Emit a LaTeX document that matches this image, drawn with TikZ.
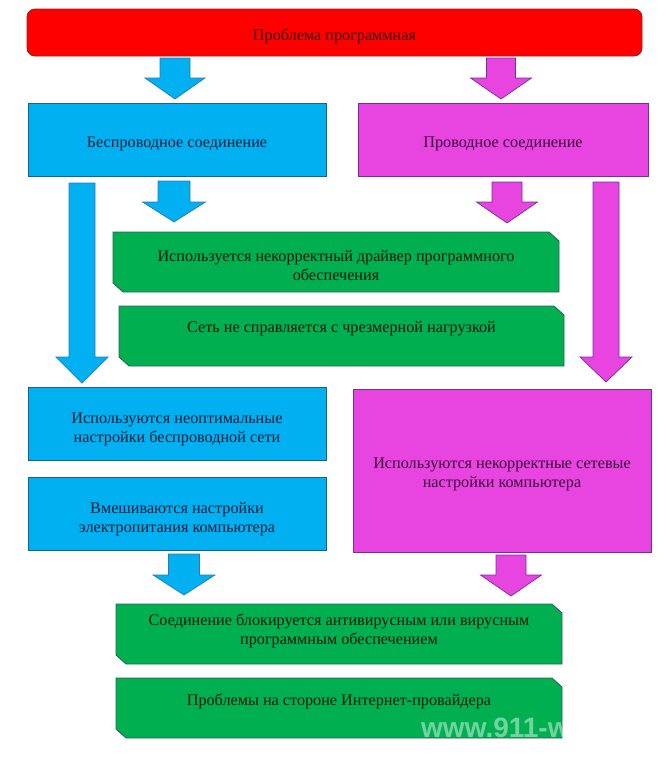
\documentclass[tikz,border=0pt]{standalone}
\usepackage{fontspec}
\setmainfont{Liberation Serif}
\newfontfamily\wmfont{Liberation Sans}
\definecolor{redfill}{HTML}{FF0000}
\definecolor{redline}{HTML}{8B2020}
\definecolor{bluefill}{HTML}{00B0F0}
\definecolor{blueline}{HTML}{1F5F8B}
\definecolor{bluearr}{HTML}{2A7AB8}
\definecolor{magfill}{HTML}{E844E0}
\definecolor{magline}{HTML}{7030A0}
\definecolor{grnfill}{HTML}{00B050}
\definecolor{grnline}{HTML}{2A6050}
\definecolor{redtxt}{HTML}{400000}
\definecolor{bluetxt}{HTML}{0B1F3A}
\definecolor{magtxt}{HTML}{3A0A3A}
\definecolor{grntxt}{HTML}{0A1A0A}
\newcommand\blockarr[7]{%
  \draw[#1] ({#2-#6},#3) -- ({#2+#6},#3) -- ({#2+#6},#4) -- ({#2+#7},#4)
    -- (#2,#5) -- ({#2-#7},#4) -- ({#2-#6},#4) -- cycle;}
\newcommand\snipbox[5]{% style x1 y1 x2 y2
  \draw[#1] (#2,#3) -- ({#4-10},#3) -- (#4,{#3+9}) -- (#4,#5) -- ({#2+10},#5)
    -- (#2,{#5-9}) -- cycle;}
\tikzset{
  redbox/.style={fill=redfill,draw=redline,line width=0.8pt,rounded corners=8pt},
  bluebox/.style={fill=bluefill,draw=blueline,line width=0.8pt},
  magbox/.style={fill=magfill,draw=magline,line width=0.8pt},
  grnbox/.style={fill=grnfill,draw=grnline,line width=0.8pt},
  bluearrow/.style={fill=bluefill,draw=bluearr,line width=0.7pt},
  magarrow/.style={fill=magfill,draw=magline,line width=0.7pt},
  txt/.style={inner sep=0pt,align=center,font=\fontsize{16.2}{19}\selectfont},
}
\begin{document}
\begin{tikzpicture}[x=1pt,y=-1pt]
\useasboundingbox (0,0) rectangle (665,758);
% top
\draw[redbox] (27,9) rectangle (642,56);
\node[txt,text=redtxt] (top) at (334.5,36) {Проблема программная};
% arrows from top
\blockarr{bluearrow}{175}{58}{78}{99}{15}{30}
\blockarr{magarrow}{501}{58}{78}{99}{14.5}{30.5}
% level 2
\draw[bluebox] (28,103) rectangle (326,176);
\node[txt,text=bluetxt] (wl) at (177,144) {Беспроводное соединение};
\draw[magbox] (358,103) rectangle (648,176);
\node[txt,text=magtxt] (wd) at (503,144) {Проводное соединение};
% arrows from level 2
\blockarr{bluearrow}{82}{183}{357}{383}{13}{26}
\blockarr{bluearrow}{174}{181}{202}{222}{16}{31.5}
\blockarr{magarrow}{507}{182}{202}{223}{15}{30.5}
\blockarr{magarrow}{606}{182}{357}{382}{13}{26}
% green 1,2
\snipbox{grnbox}{113}{232}{559}{292}
\node[txt,text=grntxt] (g1) at (336,266) {Используется некорректный драйвер программного\\обеспечения};
\snipbox{grnbox}{119}{306}{564}{366}
\node[txt,text=grntxt] (g2) at (341.5,329) {Сеть не справляется с чрезмерной нагрузкой};
% level 3
\draw[bluebox] (28,387) rectangle (326,460);
\node[txt,text=bluetxt] (b2) at (177,429) {Используются неоптимальные\\настройки беспроводной сети};
\draw[bluebox] (28,477) rectangle (326,550);
\node[txt,text=bluetxt] (b3) at (177,519) {Вмешиваются настройки\\электропитания компьютера};
\draw[magbox] (353,389) rectangle (651,552);
\node[txt,text=magtxt] (m2) at (502,474) {Используются некорректные сетевые\\настройки компьютера};
% bottom arrows
\blockarr{bluearrow}{184}{554}{575}{595}{15.5}{31}
\blockarr{magarrow}{511}{555}{575}{596}{15}{30.5}
% green 3,4
\snipbox{grnbox}{116}{604}{562}{664}
\node[txt,text=grntxt] (g3) at (339,630.5) {Соединение блокируется антивирусным или вирусным\\программным обеспечением};
\snipbox{grnbox}{116}{678}{562}{738}
\node[txt,text=grntxt] (g4) at (339,701) {Проблемы на стороне Интернет-провайдера};
% watermark
\begin{scope}
\clip (116,678) -- (552,678) -- (562,687) -- (562,738) -- (116,738) -- cycle;
\node[anchor=base west,inner sep=0pt,text=white,text opacity=0.45,font=\wmfont\bfseries\fontsize{28}{28}\selectfont] (wm) at (421,737) {www.911-w};
\end{scope}
\end{tikzpicture}
\end{document}
